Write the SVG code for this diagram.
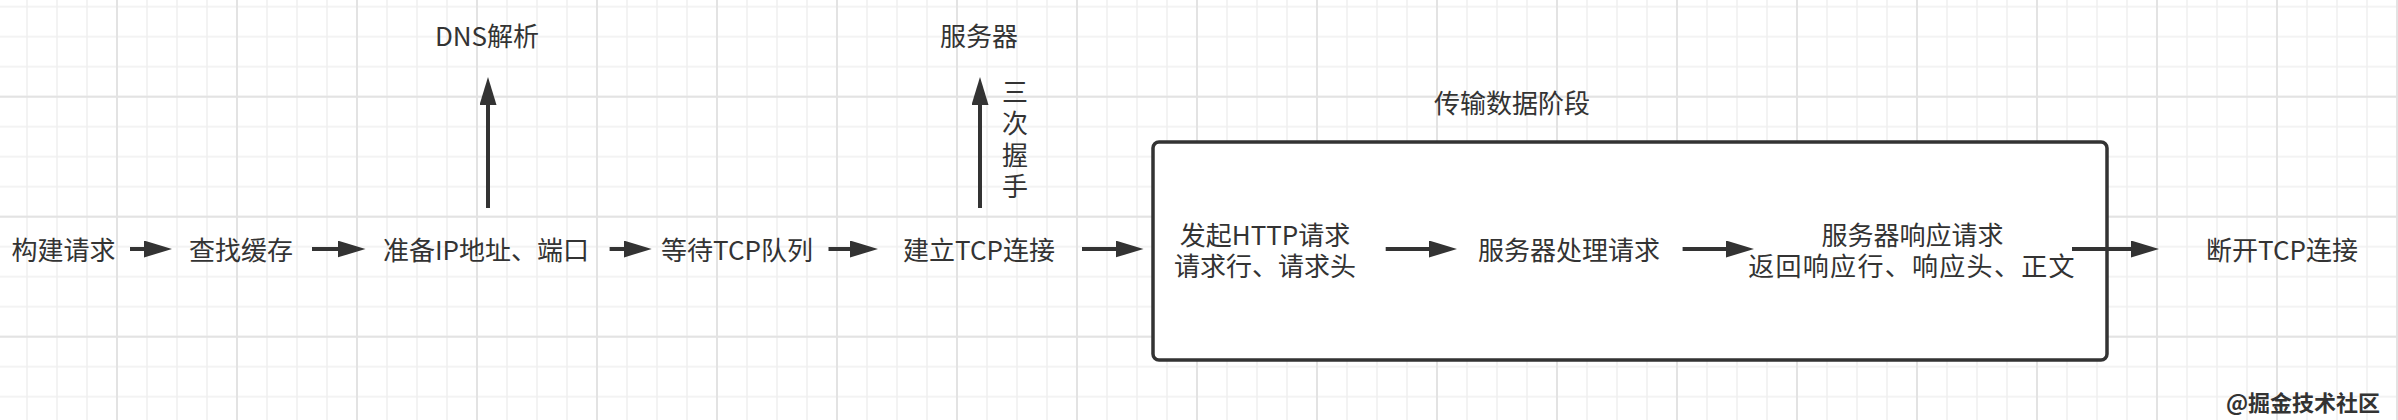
<svg xmlns="http://www.w3.org/2000/svg" width="2398" height="420" viewBox="0 0 2398 420">
<style>
text{font-family:"Noto Sans CJK SC","Microsoft YaHei",sans-serif;font-size:26px;fill:#333;text-anchor:middle}
.conn line{stroke:#333;stroke-width:4;fill:none}
.box{fill:#fff;stroke:#333;stroke-width:3.5}
.wm{font-size:22px;fill:#333;font-weight:bold}
</style>
<defs>
<pattern id="minor" patternUnits="userSpaceOnUse" x="12" y="-8.3" width="30" height="30">
<path d="M15 0V30M0 15H30" stroke="#efefef" stroke-width="1.5" fill="none"/>
</pattern>
<pattern id="major" patternUnits="userSpaceOnUse" x="57" y="36.7" width="120" height="120">
<path d="M60 0V120M0 60H120" stroke="#e3e3e3" stroke-width="2" fill="none"/>
</pattern>
<marker id="ah" markerUnits="userSpaceOnUse" viewBox="0 0 28 17" markerWidth="28" markerHeight="17" refX="4" refY="8.5" orient="auto">
<path d="M0 0L28 8.5L0 17z" fill="#333"/>
</marker>
</defs>
<rect width="2398" height="420" fill="#fff"/>
<rect width="2398" height="420" fill="url(#minor)"/>
<rect width="2398" height="420" fill="url(#major)"/>

<g id="stage-box">
<rect class="box" x="1153" y="142" width="954" height="218" rx="6"/>
<text x="1512" y="113">传输数据阶段</text>
</g>

<g id="n-build"><text x="63.5" y="260">构建请求</text></g>
<g id="n-cache"><text x="241" y="260">查找缓存</text></g>
<g id="n-ip"><text x="486" y="260">准备IP地址、端口</text></g>
<g id="n-dns"><text x="487" y="46">DNS解析</text></g>
<g id="n-queue"><text x="737" y="260">等待TCP队列</text></g>
<g id="n-tcp"><text x="979" y="260">建立TCP连接</text></g>
<g id="n-server"><text x="979" y="46">服务器</text></g>
<g id="n-http"><text x="1265" y="245">发起HTTP请求<tspan x="1265" dy="31">请求行、请求头</tspan></text></g>
<g id="n-process"><text x="1569" y="260">服务器处理请求</text></g>
<g id="n-response"><text x="1912.5" y="245">服务器响应请求<tspan x="1912" dy="31" style="letter-spacing:1.3px">返回响应行、响应头、正文</tspan></text></g>
<g id="n-close"><text x="2282" y="260">断开TCP连接</text></g>

<g class="conn" id="connectors">
<line x1="130" y1="249" x2="148" y2="249" marker-end="url(#ah)"/>
<line x1="312" y1="249" x2="341.5" y2="249" marker-end="url(#ah)"/>
<line x1="609.6" y1="249" x2="627.7" y2="249" marker-end="url(#ah)"/>
<line x1="828.5" y1="249" x2="854" y2="249" marker-end="url(#ah)"/>
<line x1="1082" y1="249" x2="1119.5" y2="249" marker-end="url(#ah)"/>
<line x1="1385.7" y1="249" x2="1433" y2="249" marker-end="url(#ah)"/>
<line x1="1682.6" y1="249" x2="1730" y2="249" marker-end="url(#ah)"/>
<line x1="2072" y1="249" x2="2135" y2="249" marker-end="url(#ah)"/>
<line x1="488" y1="208" x2="488" y2="101" marker-end="url(#ah)"/>
<line x1="980" y1="208" x2="980" y2="101" marker-end="url(#ah)"/>
<g id="label-handshake">
<text x="1015" y="101.5">三<tspan x="1015" dy="31.5">次</tspan><tspan x="1015" dy="31.5">握</tspan><tspan x="1015" dy="31.5">手</tspan></text>
</g>
</g>

<text class="wm" x="2303" y="411">@掘金技术社区</text>
</svg>
